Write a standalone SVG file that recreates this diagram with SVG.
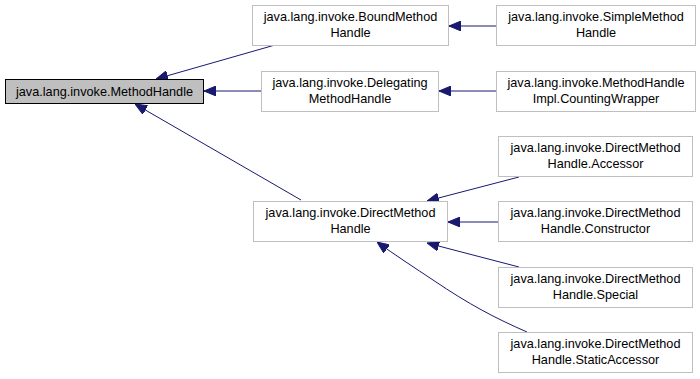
<svg xmlns="http://www.w3.org/2000/svg" width="700" height="379" viewBox="0 0 700 379">
  <style>
    .box { fill: #ffffff; stroke: #bfbfbf; stroke-width: 1; }
    .root { fill: #bfbfbf; stroke: #000000; stroke-width: 1; }
    .lbl { font-family: "Liberation Sans", Arial, sans-serif; font-size: 12.7px; fill: #000000; text-anchor: middle; }
    .edge { fill: none; stroke: #191970; stroke-width: 1; }
  </style>
  <defs>
    <marker id="arrow" viewBox="0 0 12 10" refX="12" refY="5" markerWidth="12" markerHeight="10" markerUnits="userSpaceOnUse" orient="auto">
      <path d="M0,0 L12,5 L0,10 Z" fill="#191970" stroke="#191970"/>
    </marker>
  </defs>
  <rect width="700" height="379" fill="#ffffff"/>

  <g id="connectors">
    <path class="edge" marker-end="url(#arrow)" d="M275,45 L156,79"/>
    <path class="edge" marker-end="url(#arrow)" d="M261,91 L204,91"/>
    <path class="edge" marker-end="url(#arrow)" d="M301,200 L135,104"/>
    <path class="edge" marker-end="url(#arrow)" d="M496,26 L449,26"/>
    <path class="edge" marker-end="url(#arrow)" d="M496,91 L439,91"/>
    <path class="edge" marker-end="url(#arrow)" d="M519,177 L427,201"/>
    <path class="edge" marker-end="url(#arrow)" d="M498,222 L448,222"/>
    <path class="edge" marker-end="url(#arrow)" d="M519,267 L427,243"/>
    <path class="edge" marker-end="url(#arrow)" d="M527,332 C495,318 470,305 433,280 C415,268 395,255 377,242"/>
  </g>

  <g id="node-MethodHandle">
    <rect class="root" x="5.5" y="79.5" width="198" height="24"/>
    <text class="lbl" x="104.5" y="96">java.lang.invoke.MethodHandle</text>
  </g>
  <g id="node-BoundMethodHandle">
    <rect class="box" x="252.5" y="5.5" width="196" height="40"/>
    <text class="lbl" x="350.5" y="21">java.lang.invoke.BoundMethod</text>
    <text class="lbl" x="350.5" y="37">Handle</text>
  </g>
  <g id="node-SimpleMethodHandle">
    <rect class="box" x="496.5" y="5.5" width="199" height="40"/>
    <text class="lbl" x="596" y="21">java.lang.invoke.SimpleMethod</text>
    <text class="lbl" x="596" y="37">Handle</text>
  </g>
  <g id="node-DelegatingMethodHandle">
    <rect class="box" x="261.5" y="71.5" width="177" height="40"/>
    <text class="lbl" x="350" y="87">java.lang.invoke.Delegating</text>
    <text class="lbl" x="350" y="103">MethodHandle</text>
  </g>
  <g id="node-CountingWrapper">
    <rect class="box" x="496.5" y="71.5" width="199" height="40"/>
    <text class="lbl" x="596" y="87">java.lang.invoke.MethodHandle</text>
    <text class="lbl" x="596" y="103">Impl.CountingWrapper</text>
  </g>
  <g id="node-DirectMethodHandle">
    <rect class="box" x="253.5" y="201.5" width="194" height="40"/>
    <text class="lbl" x="350.5" y="217">java.lang.invoke.DirectMethod</text>
    <text class="lbl" x="350.5" y="233">Handle</text>
  </g>
  <g id="node-Accessor">
    <rect class="box" x="498.5" y="136.5" width="194" height="40"/>
    <text class="lbl" x="595.5" y="152">java.lang.invoke.DirectMethod</text>
    <text class="lbl" x="595.5" y="168">Handle.Accessor</text>
  </g>
  <g id="node-Constructor">
    <rect class="box" x="498.5" y="201.5" width="194" height="40"/>
    <text class="lbl" x="595.5" y="217">java.lang.invoke.DirectMethod</text>
    <text class="lbl" x="595.5" y="233">Handle.Constructor</text>
  </g>
  <g id="node-Special">
    <rect class="box" x="498.5" y="267.5" width="194" height="40"/>
    <text class="lbl" x="595.5" y="283">java.lang.invoke.DirectMethod</text>
    <text class="lbl" x="595.5" y="299">Handle.Special</text>
  </g>
  <g id="node-StaticAccessor">
    <rect class="box" x="498.5" y="332.5" width="194" height="40"/>
    <text class="lbl" x="595.5" y="348">java.lang.invoke.DirectMethod</text>
    <text class="lbl" x="595.5" y="364">Handle.StaticAccessor</text>
  </g>
</svg>
